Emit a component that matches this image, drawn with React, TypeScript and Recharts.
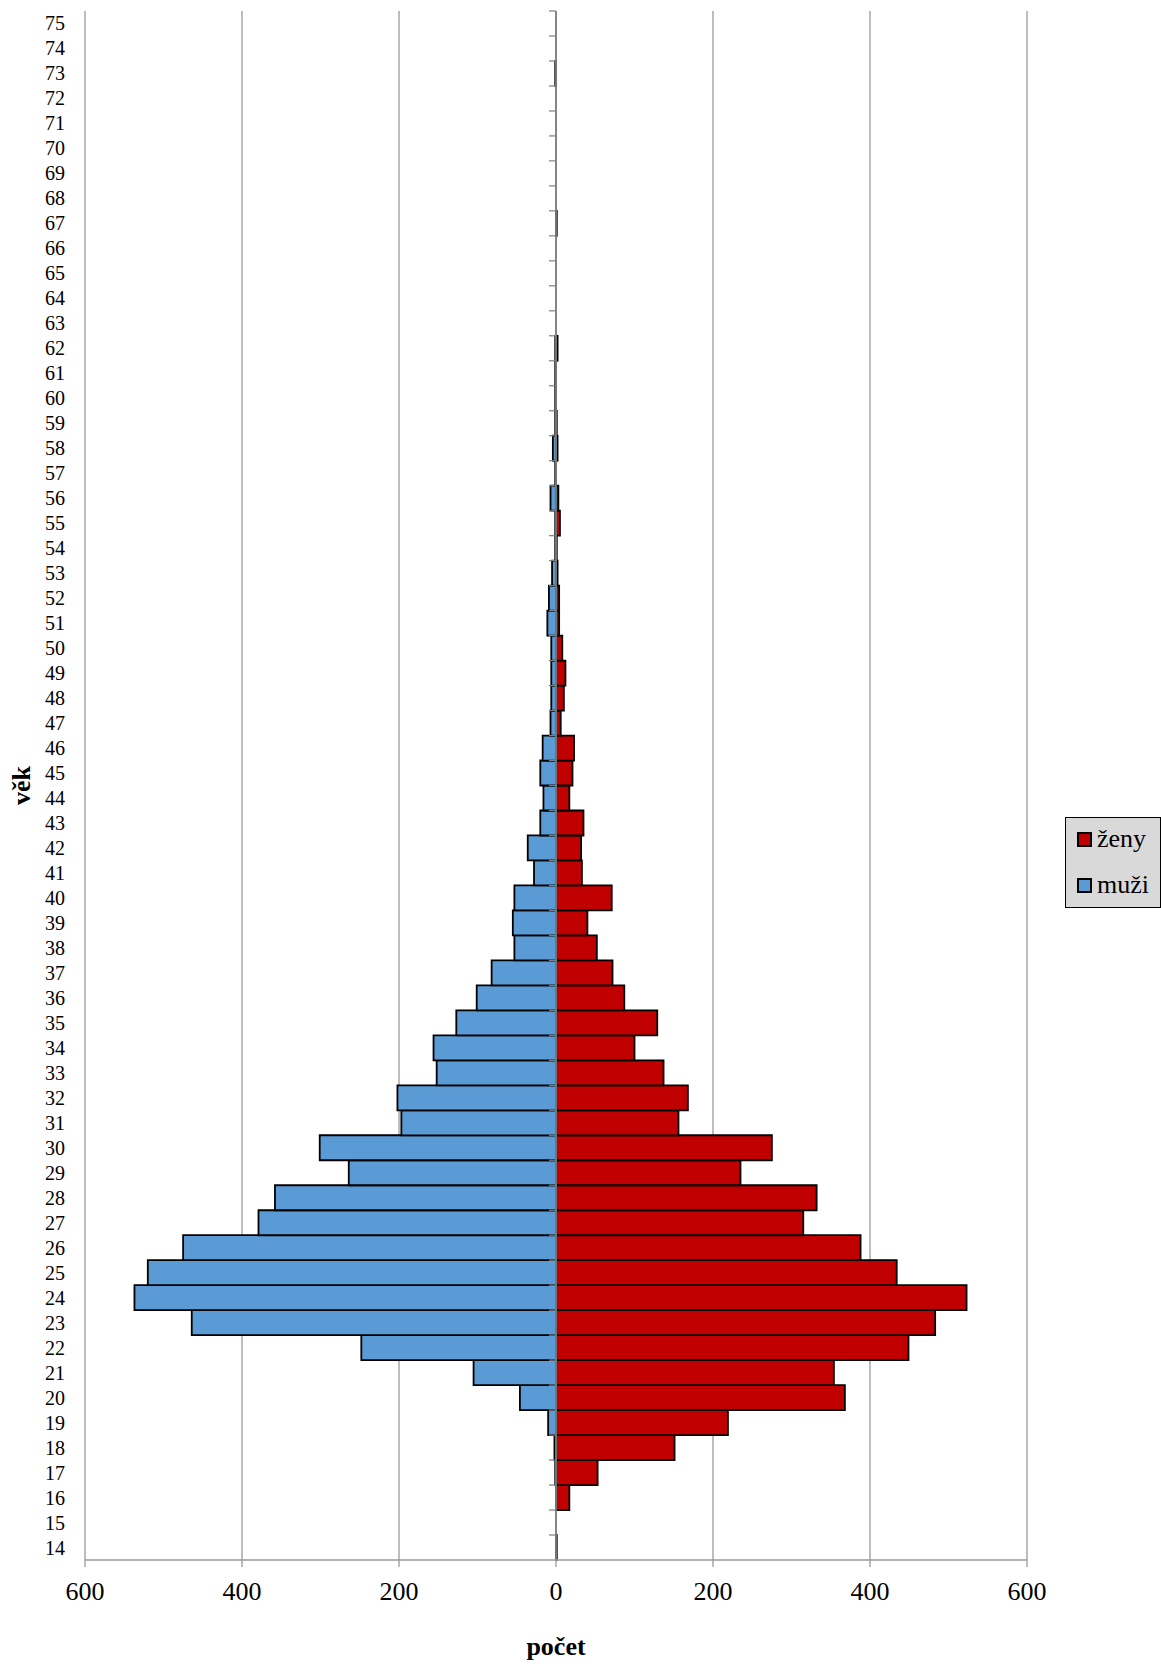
import React from "react";
import { BarChart, Bar, XAxis, YAxis, CartesianGrid, ReferenceLine } from "recharts";

// age categories, bottom (14) to top (75)
const AGES = [
  "14", "15", "16", "17", "18", "19", "20", "21", "22", "23", "24", "25", "26", "27", "28", "29",
  "30", "31", "32", "33", "34", "35", "36", "37", "38", "39", "40", "41", "42", "43", "44", "45",
  "46", "47", "48", "49", "50", "51", "52", "53", "54", "55", "56", "57", "58", "59", "60", "61",
  "62", "63", "64", "65", "66", "67", "68", "69", "70", "71", "72", "73", "74", "75",
];

// muži (men), same order as AGES
const MUZI = [
  0, 0, 0, 1, 2, 10, 46, 105, 248, 464, 537, 520, 475, 379, 358, 264,
  301, 197, 202, 152, 156, 127, 101, 82, 53, 55, 53, 28, 36, 20, 16, 20,
  17, 7, 6, 6, 6, 11, 9, 5, 1, 1, 7, 1, 4, 1, 1, 1,
  1, 0, 0, 0, 0, 0, 0, 0, 0, 0, 0, 1, 0, 0,
];

// ženy (women), same order as AGES
const ZENY = [
  1, 0, 17, 53, 151, 219, 368, 354, 449, 483, 523, 434, 388, 315, 332, 235,
  275, 156, 168, 137, 100, 129, 87, 72, 52, 40, 71, 33, 32, 35, 17, 21,
  23, 6, 10, 12, 8, 4, 4, 2, 1, 5, 3, 0, 2, 1, 0, 0,
  2, 0, 0, 0, 0, 1, 0, 0, 0, 0, 0, 0, 0, 0,
];

const X_TICKS = [-600, -400, -200, 0, 200, 400, 600];

const W = 1161;
const H = 1664;
const MARGIN = { top: 11, right: 134, bottom: 0, left: 0 };
const Y_AXIS_W = 85;
const X_AXIS_H = 104;
const PLOT_LEFT = MARGIN.left + Y_AXIS_W;
const PLOT_W = W - PLOT_LEFT - MARGIN.right;
const PLOT_H = H - MARGIN.top - MARGIN.bottom - X_AXIS_H;
const ZERO_X = PLOT_LEFT + PLOT_W / 2;
const BAND = PLOT_H / AGES.length;

const FONT = '"Liberation Serif", "Times New Roman", "DejaVu Serif", serif';
const GRID = "#9a9a9a";
const AXIS = "#7f7f7f";
const RED = "#C00000";
const BLUE = "#5B9BD5";

const data = AGES.map((age, i) => ({ age, muzi: -MUZI[i], zeny: ZENY[i] }));

// age label on the left + small tick on the centre axis at the band edge
function AgeTick(props: any) {
  const { y, payload } = props;
  return (
    <g>
      <line x1={ZERO_X - 7} x2={ZERO_X} y1={y - BAND / 2} y2={y - BAND / 2} stroke={AXIS} strokeWidth={1.2} />
      <text x={PLOT_LEFT - 20} y={y} dy="0.35em" textAnchor="end" fontFamily={FONT} fontSize={20} fill="#000">
        {payload.value}
      </text>
    </g>
  );
}

function VekLabel(props: any) {
  const vb = props.viewBox;
  const cx = vb.x + 30;
  const cy = vb.y + vb.height / 2;
  return (
    <text
      x={cx}
      y={cy}
      transform={`rotate(-90 ${cx} ${cy})`}
      textAnchor="middle"
      fontFamily={FONT}
      fontSize={26}
      fontWeight="bold"
      fill="#000"
    >
      věk
    </text>
  );
}

function LegendBox() {
  const item = (color: string, text: string, sqTop: number, txtTop: number) => (
    <>
      <div
        style={{
          position: "absolute",
          left: 10.5,
          top: sqTop,
          width: 15,
          height: 15,
          background: color,
          border: "2px solid #000",
          boxSizing: "border-box",
        }}
      />
      <div style={{ position: "absolute", left: 31, top: txtTop, lineHeight: "30px", whiteSpace: "nowrap" }}>{text}</div>
    </>
  );
  return (
    <div
      style={{
        position: "absolute",
        left: 1065,
        top: 817,
        width: 96,
        height: 91,
        background: "#d9d9d9",
        border: "1.5px solid #000",
        boxSizing: "border-box",
        fontFamily: FONT,
        fontSize: 26,
        color: "#000",
      }}
    >
      {item(RED, "ženy", 13.5, 6)}
      {item(BLUE, "muži", 59.5, 52)}
    </div>
  );
}

export default function App() {
  return (
    <div style={{ position: "relative", width: W, height: H, background: "#fff" }}>
      <style>{"body{margin:0}"}</style>
      <BarChart
        width={W}
        height={H}
        data={data}
        layout="vertical"
        margin={MARGIN}
        barCategoryGap={0}
        barGap={0}
        stackOffset="sign"
      >
        <CartesianGrid horizontal={false} stroke={GRID} strokeWidth={1.3} />
        <XAxis
          type="number"
          domain={[-600, 600]}
          ticks={X_TICKS}
          tickFormatter={(v: number) => String(Math.abs(v))}
          height={X_AXIS_H}
          axisLine={{ stroke: GRID, strokeWidth: 1.3 }}
          tickLine={{ stroke: GRID, strokeWidth: 1.3 }}
          tickSize={7}
          tickMargin={15}
          tick={{ fontSize: 26, fontFamily: FONT, fill: "#000" }}
          label={{
            value: "počet",
            position: "insideBottom",
            offset: 9,
            fontSize: 26,
            fontWeight: "bold",
            fontFamily: FONT,
            fill: "#000",
          }}
        />
        <YAxis
          type="category"
          dataKey="age"
          reversed
          width={Y_AXIS_W}
          interval={0}
          axisLine={false}
          tickLine={false}
          tick={AgeTick}
          label={<VekLabel />}
        />
        <Bar dataKey="zeny" stackId="p" fill={RED} stroke="#000" strokeWidth={1.8} isAnimationActive={false} />
        <Bar dataKey="muzi" stackId="p" fill={BLUE} stroke="#000" strokeWidth={1.8} isAnimationActive={false} />
        <ReferenceLine x={0} stroke={AXIS} strokeWidth={1.8} />
      </BarChart>
      <LegendBox />
    </div>
  );
}
